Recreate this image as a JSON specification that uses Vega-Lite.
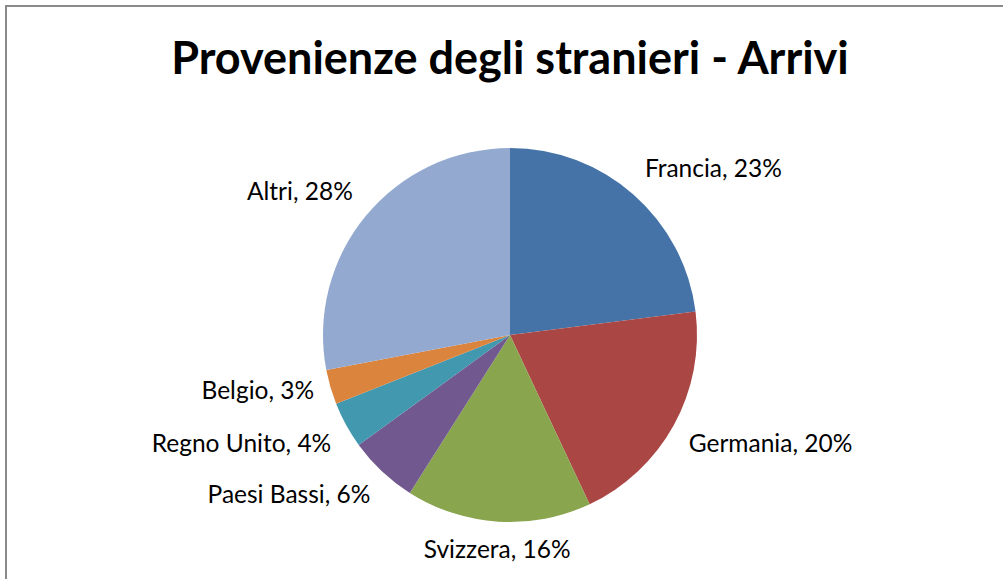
{
  "$schema": "https://vega.github.io/schema/vega-lite/v6.json",
  "width": 1008,
  "height": 658,
  "autosize": "none",
  "padding": {"left": 6, "top": 6, "right": 0, "bottom": 0},
  "background": "white",
  "view": {"stroke": "#8a8a8a", "strokeWidth": 2},
  "title": {
    "text": "Provenienze degli stranieri - Arrivi",
    "font": "Lato",
    "fontWeight": "bold",
    "fontSize": 45,
    "color": "#000000",
    "anchor": "middle",
    "offset": -77
  },
  "data": {
    "values": [
      {"country": "Francia", "pct": 23},
      {"country": "Germania", "pct": 20},
      {"country": "Svizzera", "pct": 16},
      {"country": "Paesi Bassi", "pct": 6},
      {"country": "Regno Unito", "pct": 4},
      {"country": "Belgio", "pct": 3},
      {"country": "Altri", "pct": 28}
    ]
  },
  "transform": [
    {"window": [{"op": "row_number", "as": "ord"}]},
    {"calculate": "datum.country + ', ' + datum.pct + '%'", "as": "label"}
  ],
  "encoding": {
    "theta": {"field": "pct", "type": "quantitative", "stack": true},
    "order": {"field": "ord", "type": "quantitative"}
  },
  "layer": [
    {
      "mark": {"type": "arc", "outerRadius": 187, "stroke": null},
      "encoding": {
        "color": {
          "field": "country",
          "type": "nominal",
          "legend": null,
          "scale": {
            "domain": ["Francia", "Germania", "Svizzera", "Paesi Bassi", "Regno Unito", "Belgio", "Altri"],
            "range": ["#4572A7", "#AA4643", "#89A54E", "#71588F", "#4198AF", "#DB843D", "#93A9CF"]
          }
        }
      }
    },
    {
      "mark": {
        "type": "text",
        "radius": 204,
        "font": "Lato",
        "fontSize": 24.5,
        "color": "#000000",
        "align": {"expr": "((datum.pct_start + datum.pct_end) / 2) < 48 ? 'left' : (((datum.pct_start + datum.pct_end) / 2) < 54 ? 'center' : 'right')"},
        "baseline": {"expr": "(((datum.pct_start + datum.pct_end) / 2) < 20 || ((datum.pct_start + datum.pct_end) / 2) > 80) ? 'bottom' : ((((datum.pct_start + datum.pct_end) / 2) > 30 && ((datum.pct_start + datum.pct_end) / 2) < 70) ? 'top' : 'middle')"}
      },
      "encoding": {
        "text": {"field": "label", "type": "nominal"}
      }
    }
  ]
}
